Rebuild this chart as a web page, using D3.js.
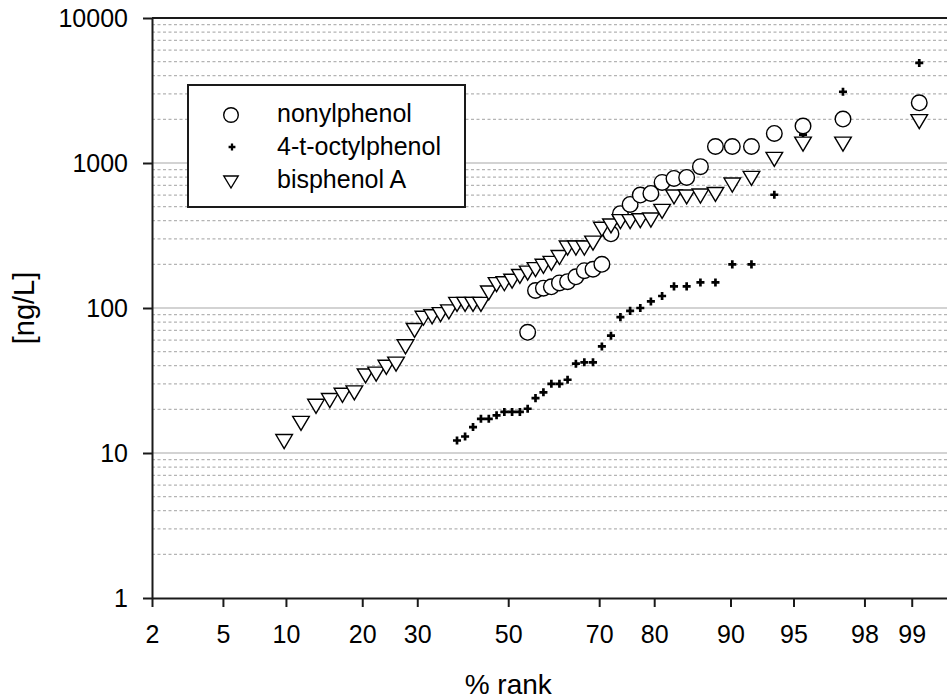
<!DOCTYPE html>
<html>
<head>
<meta charset="utf-8">
<script src="https://cdn.jsdelivr.net/npm/d3@7"></script>
<style>
  body { margin: 0; background: #fff; }
  text { font-family: "Liberation Sans", Arial, sans-serif; }
</style>
</head>
<body>
<div id="chart"></div>
<script>
// % rank of each sample (ranks 6..56 of 56), shared by the three compounds
var rankPct = [9.82, 11.61, 13.39, 15.18, 16.96, 18.75, 20.54, 22.32, 24.11, 25.89,
  27.68, 29.46, 31.25, 33.04, 34.82, 36.61, 38.39, 40.18, 41.96, 43.75,
  45.54, 47.32, 49.11, 50.89, 52.68, 54.46, 56.25, 58.04, 59.82, 61.61,
  63.39, 65.18, 66.96, 68.75, 70.54, 72.32, 74.11, 75.89, 77.68, 79.46,
  81.25, 83.04, 84.82, 86.61, 88.39, 90.18, 91.96, 93.75, 95.54, 97.32, 99.11];

// concentrations in ng/L, null = not detected
var nonylphenol = [null, null, null, null, null, null, null, null, null, null,
  null, null, null, null, null, null, null, null, null, null,
  null, null, null, null, null, 68, 132, 137, 140, 149,
  152, 164, 181, 185, 200, 325, 447, 518, 601, 617,
  735, 783, 795, 944, 1300, 1300, 1300, 1600, 1800, 2010, 2600];

var octylphenol = [null, null, null, null, null, null, null, null, null, null,
  null, null, null, null, null, null, 12.2, 13, 15.1, 17.2,
  17.2, 18.2, 19.2, 19.2, 19.2, 20.2, 23.9, 26.2, 30, 30,
  32, 41.3, 42.2, 42.2, 54.3, 64.4, 86.5, 95.5, 100, 111,
  121, 141, 141, 150, 150, 200, 200, 604, 1570, 3100, 4900];

var bisphenolA = [12, 16, 21, 23, 25, 26, 34, 35, 39, 41,
  54, 70, 85, 87, 90, 94, 106, 106, 106, 106,
  127, 145, 147, 153, 165, 174, 184, 194, 203, 223,
  259, 259, 259, 280, 349, 368, 394, 394, 400, 404,
  464, 583, 583, 592, 607, 705, 783, 1060, 1350, 1350, 1930];

var xTicks = [2, 5, 10, 20, 30, 50, 70, 80, 90, 95, 98, 99];
var yTicks = [1, 10, 100, 1000, 10000];
var seriesNames = ["nonylphenol", "4-t-octylphenol", "bisphenol A"];

// inverse normal cdf (Acklam)
function probit(p) {
  var a = [-39.69683028665376, 220.9460984245205, -275.9285104469687, 138.3577518672690, -30.66479806614716, 2.506628277459239];
  var b = [-54.47609879822406, 161.5858368580409, -155.6989798598866, 66.80131188771972, -13.28068155288572];
  var c = [-0.007784894002430293, -0.3223964580411365, -2.400758277161838, -2.549732539343734, 4.374664141464968, 2.938163982698783];
  var d = [0.007784695709041462, 0.3224671290700398, 2.445134137142996, 3.754408661907416];
  var pl = 0.02425, q, r;
  if (p < pl) {
    q = Math.sqrt(-2 * Math.log(p));
    return (((((c[0]*q+c[1])*q+c[2])*q+c[3])*q+c[4])*q+c[5]) / ((((d[0]*q+d[1])*q+d[2])*q+d[3])*q+1);
  }
  if (p > 1 - pl) {
    q = Math.sqrt(-2 * Math.log(1 - p));
    return -(((((c[0]*q+c[1])*q+c[2])*q+c[3])*q+c[4])*q+c[5]) / ((((d[0]*q+d[1])*q+d[2])*q+d[3])*q+1);
  }
  q = p - 0.5; r = q * q;
  return (((((a[0]*r+a[1])*r+a[2])*r+a[3])*r+a[4])*r+a[5])*q / (((((b[0]*r+b[1])*r+b[2])*r+b[3])*r+b[4])*r+1);
}

var margin = {top: 18, left: 152},
    width = 803,
    height = 580;

var svg = d3.select("#chart")
    .append("svg")
    .attr("width", 947)
    .attr("height", 700)
    .style("display", "block");

svg.append("rect").attr("width", 947).attr("height", 700).attr("fill", "#fff");

var g = svg.append("g")
    .attr("transform", "translate(" + margin.left + "," + margin.top + ")");

// probability scale on x: linear in z
var z = d3.scaleLinear()
    .domain([probit(0.02), probit(0.995)])
    .range([0, width]);
function x(pct) { return z(probit(pct / 100)); }

var y = d3.scaleLog().domain([1, 10000]).range([height, 0]);

// minor gridlines
var minor = [];
[1, 10, 100, 1000].forEach(function(dec) {
  for (var m = 2; m <= 9; m++) minor.push(m * dec);
});
g.selectAll(".minor")
  .data(minor)
  .enter().append("line")
    .attr("x1", 0).attr("x2", width)
    .attr("y1", function(d) { return y(d); })
    .attr("y2", function(d) { return y(d); })
    .attr("stroke", "#b4b4b4")
    .attr("stroke-width", 1.2)
    .attr("stroke-dasharray", "3,2.5");

g.selectAll(".major")
  .data([10, 100, 1000])
  .enter().append("line")
    .attr("x1", 0).attr("x2", width)
    .attr("y1", function(d) { return y(d); })
    .attr("y2", function(d) { return y(d); })
    .attr("stroke", "#c4c4c4")
    .attr("stroke-width", 1.6);

// axes
var yAxis = g.append("g")
    .call(d3.axisLeft(y).tickValues(yTicks).tickSize(9).tickSizeOuter(0)
      .tickPadding(15).tickFormat(d3.format("d")));

var xAxis = g.append("g")
    .attr("transform", "translate(0," + height + ")")
    .call(d3.axisBottom(z)
      .tickValues(xTicks.map(function(p) { return probit(p / 100); }))
      .tickFormat(function(d, i) { return xTicks[i]; })
      .tickSize(9).tickSizeOuter(0).tickPadding(18));

[yAxis, xAxis].forEach(function(ax) {
  ax.attr("font-size", 25).attr("font-family", "Liberation Sans, Arial, sans-serif");
  ax.selectAll("path, line").attr("stroke", "#1a1a1a").attr("stroke-width", 2);
  ax.selectAll("text").attr("fill", "#000");
});
yAxis.selectAll("text").attr("dy", "0.33em");

// top border
g.append("line")
  .attr("x1", 0).attr("x2", width).attr("y1", 0).attr("y2", 0)
  .attr("stroke", "#1a1a1a").attr("stroke-width", 2);

// axis titles
svg.append("text")
  .attr("transform", "translate(34," + (margin.top + height / 2) + ") rotate(-90)")
  .attr("text-anchor", "middle")
  .attr("font-size", 29)
  .text("[ng/L]");

svg.append("text")
  .attr("x", margin.left + x(50))
  .attr("y", 694)
  .attr("text-anchor", "middle")
  .attr("font-size", 28)
  .text("% rank");

// markers
var cross = d3.symbol().type(d3.symbolCross).size(36);
var triPath = "M-8.3,-7L8.3,-7L0,7Z";

function pts(vals) {
  return rankPct.map(function(r, i) { return {r: r, v: vals[i]}; })
    .filter(function(d) { return d.v != null; });
}

g.selectAll(".oct")
  .data(pts(octylphenol))
  .enter().append("path")
    .attr("d", cross)
    .attr("transform", function(d) { return "translate(" + x(d.r) + "," + y(d.v) + ")"; })
    .attr("fill", "#000");

g.selectAll(".non")
  .data(pts(nonylphenol))
  .enter().append("circle")
    .attr("cx", function(d) { return x(d.r); })
    .attr("cy", function(d) { return y(d.v); })
    .attr("r", 7.8)
    .attr("fill", "#fff")
    .attr("stroke", "#000")
    .attr("stroke-width", 1.4);

g.selectAll(".bpa")
  .data(pts(bisphenolA))
  .enter().append("path")
    .attr("d", triPath)
    .attr("transform", function(d) { return "translate(" + x(d.r) + "," + y(d.v) + ")"; })
    .attr("fill", "#fff")
    .attr("stroke", "#000")
    .attr("stroke-width", 1.4);

// legend
var lg = svg.append("g").attr("transform", "translate(188,85)");
lg.append("rect")
  .attr("width", 277).attr("height", 122)
  .attr("fill", "#fff").attr("stroke", "#1a1a1a").attr("stroke-width", 2);

lg.append("circle").attr("cx", 43).attr("cy", 30).attr("r", 7.3)
  .attr("fill", "#fff").attr("stroke", "#000").attr("stroke-width", 1.4);
lg.append("path").attr("d", d3.symbol().type(d3.symbolCross).size(26))
  .attr("transform", "translate(44,62)").attr("fill", "#000");
lg.append("path").attr("d", "M-7.2,-6L7.2,-6L0,6Z")
  .attr("transform", "translate(43,97)")
  .attr("fill", "#fff").attr("stroke", "#000").attr("stroke-width", 1.4);

lg.selectAll(".lt")
  .data(seriesNames)
  .enter().append("text")
    .attr("x", 89)
    .attr("y", function(d, i) { return 37 + i * 33; })
    .attr("font-size", 25)
    .text(function(d) { return d; });
</script>
</body>
</html>
